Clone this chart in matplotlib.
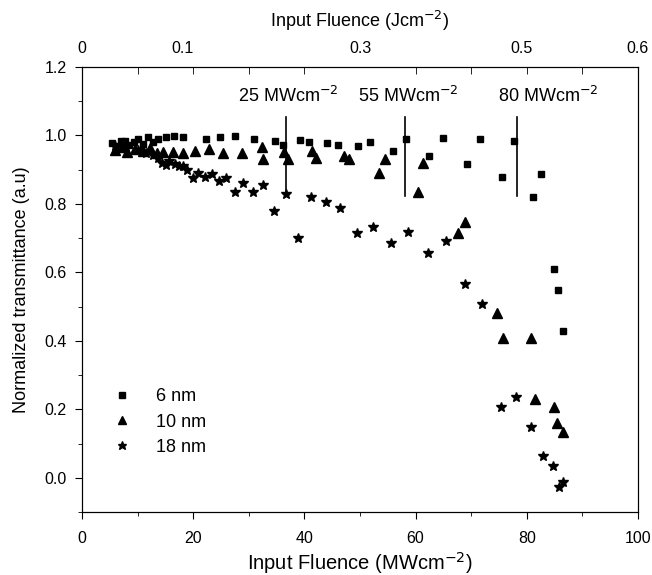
# nonlinear transmittance vs input fluence for three particle sizes
import numpy as np
import matplotlib.pyplot as plt

plt.rcParams['font.family'] = ['Liberation Sans', 'DejaVu Sans']

# 6 nm (squares)
x6 = [5.4, 6.2, 7.0, 7.7, 8.5, 9.3, 10.1, 11.0, 11.9, 12.8, 13.7, 15.1, 16.5, 18.2,
      22.3, 24.8, 27.5, 30.9, 34.7, 36.2, 39.2, 40.8, 44.1, 46.0, 49.6, 51.8, 55.9,
      58.3, 62.4, 64.9, 69.2, 71.6, 75.5, 77.7, 81.1, 82.6, 84.9, 85.6, 86.5]
y6 = [0.978, 0.970, 0.985, 0.984, 0.972, 0.980, 0.990, 0.975, 0.996, 0.982, 0.990, 0.996, 0.999, 0.996,
      0.990, 0.996, 0.999, 0.990, 0.984, 0.972, 0.987, 0.981, 0.978, 0.972, 0.969, 0.981, 0.955,
      0.990, 0.940, 0.993, 0.917, 0.990, 0.879, 0.984, 0.820, 0.888, 0.610, 0.549, 0.429]

# 10 nm (triangles)
x10 = [5.9, 7.0, 8.1, 9.5, 11.0, 12.3, 13.5, 14.6, 16.4, 18.2, 20.3, 22.8, 25.4, 28.8,
       32.4, 32.6, 36.3, 37.1, 41.4, 42.1, 47.1, 48.0, 53.4, 54.5, 60.4, 61.3, 67.6, 68.9,
       74.6, 75.7, 80.8, 81.5, 84.9, 85.4, 86.5]
y10 = [0.958, 0.965, 0.952, 0.960, 0.955, 0.962, 0.949, 0.952, 0.952, 0.949, 0.955, 0.961, 0.949, 0.949,
       0.966, 0.931, 0.952, 0.931, 0.955, 0.934, 0.940, 0.931, 0.891, 0.931, 0.835, 0.920, 0.715, 0.747,
       0.482, 0.409, 0.409, 0.231, 0.207, 0.161, 0.134]

# 18 nm (stars)
x18 = [6.0, 8.0, 10.0, 11.5, 12.8, 13.6, 14.4, 15.1, 15.6, 16.7, 17.4, 18.2, 18.9, 20.0,
       20.9, 22.1, 23.4, 24.6, 25.9, 27.5, 29.0, 30.8, 32.6, 34.5, 36.7, 38.8, 41.2, 43.9,
       46.4, 49.5, 52.3, 55.6, 58.6, 62.2, 65.5, 68.9, 71.9, 75.4, 78.1, 80.8, 82.9, 84.7,
       85.8, 86.5]
y18 = [0.970, 0.965, 0.958, 0.950, 0.942, 0.935, 0.920, 0.914, 0.926, 0.917, 0.911, 0.911, 0.899, 0.876,
       0.891, 0.879, 0.888, 0.867, 0.876, 0.835, 0.861, 0.835, 0.855, 0.780, 0.829, 0.701, 0.820, 0.806,
       0.788, 0.715, 0.733, 0.686, 0.718, 0.657, 0.692, 0.566, 0.508, 0.207, 0.237, 0.149, 0.064, 0.035,
       -0.026, -0.012]

# threshold markers
thresh_x = [36.7, 58.1, 78.2]
thresh_bottom = [0.832, 0.823, 0.823]
thresh_labels = ['25 MWcm$^{-2}$', '55 MWcm$^{-2}$', '80 MWcm$^{-2}$']
thresh_label_x = [28.1, 49.6, 74.8]

# top axis (J/cm2)
top_pos = [0, 18, 50, 79, 100]
top_labels = ['0', '0.1', '0.3', '0.5', '0.6']

fig = plt.figure(figsize=(6.52, 5.75), dpi=100)
ax = fig.add_axes([0.1258, 0.1096, 0.8527, 0.7739])

ax.plot(x6, y6, 's', color='black', ms=5, label='6 nm')
ax.plot(x10, y10, '^', color='black', ms=6.5, label='10 nm')
ax.plot(x18, y18, '*', color='black', ms=7, label='18 nm')

for xv, yb in zip(thresh_x, thresh_bottom):
    ax.plot([xv, xv], [yb, 1.055], color='black', lw=1.2)
for xl, lab in zip(thresh_label_x, thresh_labels):
    ax.text(xl, 1.085, lab, fontsize=13, ha='left', va='bottom')

ax.set_xlim(0, 100)
ax.set_ylim(-0.1, 1.2)
ax.set_xticks(np.arange(0, 101, 20))
ax.set_xticks(np.arange(10, 100, 20), minor=True)
ax.set_yticks(np.arange(0, 1.21, 0.2))
ax.set_yticks(np.arange(-0.1, 1.2, 0.2), minor=True)
ax.set_yticklabels(['0.0', '0.2', '0.4', '0.6', '0.8', '1.0', '1.2'])
ax.tick_params(which='major', direction='out', length=5, labelsize=11.5)
ax.tick_params(axis='x', which='major', pad=9)
ax.tick_params(axis='y', which='major', pad=6)
ax.tick_params(which='minor', direction='out', length=3)
ax.set_xlabel('Input Fluence (MWcm$^{-2}$)', fontsize=14.5, labelpad=3)
ax.set_ylabel('Normalized transmittance (a.u)', fontsize=13, labelpad=10)

top = ax.twiny()
top.set_xlim(0, 100)
top.set_xticks(top_pos)
top.set_xticklabels(top_labels)
top.set_xticks(np.arange(0, 101, 10), minor=True)
top.tick_params(which='major', length=0, labelsize=11.5, pad=8)
top.tick_params(which='minor', direction='in', length=5)
top.set_xlabel('Input Fluence (Jcm$^{-2}$)', fontsize=13, labelpad=10)

ax.legend(loc='lower left', bbox_to_anchor=(0.01, 0.09), frameon=False, fontsize=13,
          handletextpad=0.9, labelspacing=0.45, markerscale=0.9)

fig.savefig('out.png', dpi=100)
